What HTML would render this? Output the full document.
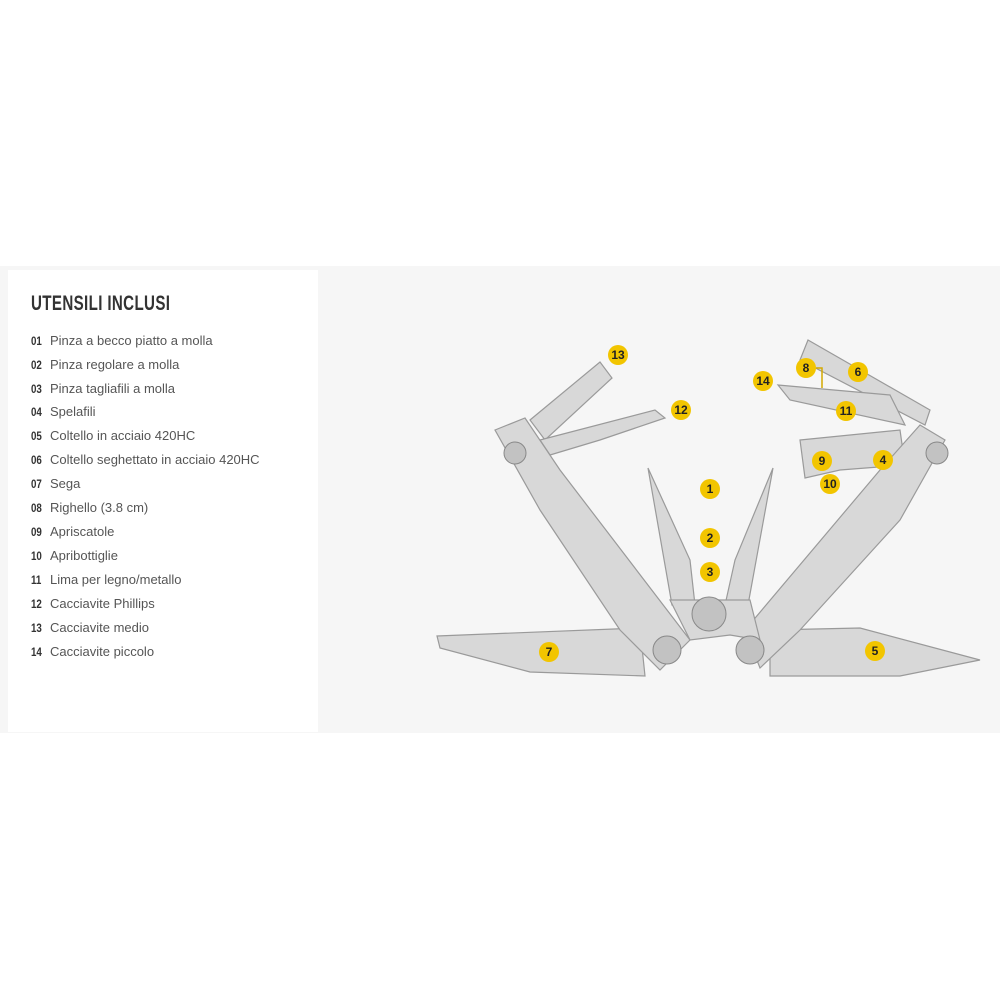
<!DOCTYPE html>
<html><head><meta charset="utf-8"><style>
body{margin:0;width:1000px;height:1000px;background:#fff;position:relative;overflow:hidden;font-family:"Liberation Sans",sans-serif}
#band{position:absolute;left:0;top:266px;width:1000px;height:467px;background:#f6f6f6}
#card{position:absolute;left:8px;top:270px;width:310px;height:462px;background:#fff}
h1{position:absolute;left:31px;top:292px;margin:0;font-size:21px;font-weight:bold;color:#333;letter-spacing:0.5px;transform:scaleX(0.72);transform-origin:left}
.it{position:absolute;left:31px;font-size:13px;color:#555;white-space:nowrap}
.it b{display:inline-block;width:19px;color:#333;font-size:11.5px;transform:scaleX(0.85);transform-origin:left}
svg{position:absolute;left:0;top:0}
</style></head><body>
<div id="band"></div><div id="card"></div>
<h1>UTENSILI INCLUSI</h1>
<div class="it" style="top:333px"><b>01</b>Pinza a becco piatto a molla</div>
<div class="it" style="top:357px"><b>02</b>Pinza regolare a molla</div>
<div class="it" style="top:381px"><b>03</b>Pinza tagliafili a molla</div>
<div class="it" style="top:404px"><b>04</b>Spelafili</div>
<div class="it" style="top:428px"><b>05</b>Coltello in acciaio 420HC</div>
<div class="it" style="top:452px"><b>06</b>Coltello seghettato in acciaio 420HC</div>
<div class="it" style="top:476px"><b>07</b>Sega</div>
<div class="it" style="top:500px"><b>08</b>Righello (3.8 cm)</div>
<div class="it" style="top:524px"><b>09</b>Apriscatole</div>
<div class="it" style="top:548px"><b>10</b>Apribottiglie</div>
<div class="it" style="top:572px"><b>11</b>Lima per legno/metallo</div>
<div class="it" style="top:596px"><b>12</b>Cacciavite Phillips</div>
<div class="it" style="top:620px"><b>13</b>Cacciavite medio</div>
<div class="it" style="top:644px"><b>14</b>Cacciavite piccolo</div>
<svg width="1000" height="1000" viewBox="0 0 1000 1000">
<g fill="#d8d8d8" stroke="#9a9a9a" stroke-width="1.2">
<polygon points="530,420 600,362 612,378 545,440"/>
<polygon points="540,440 655,410 665,418 600,440 550,455"/>
<polygon points="808,340 930,410 925,425 800,360"/>
<polygon points="778,385 890,395 905,425 790,400"/>
<polygon points="800,440 900,430 905,465 840,470 805,478"/>
<polygon points="437,636 640,628 645,676 530,672 440,648"/>
<polygon points="770,630 860,628 980,660 900,676 770,676"/>
<polygon points="648,468 690,560 695,605 672,605"/>
<polygon points="773,468 735,560 725,605 748,605"/>
<polygon points="495,430 525,418 560,470 690,640 660,670 620,630 540,510"/>
<polygon points="945,440 920,425 880,470 745,630 760,668 800,630 900,520"/>
<polygon points="670,600 750,600 760,640 730,635 690,640"/>
</g>
<g fill="#c2c2c2" stroke="#888">
<circle cx="709" cy="614" r="17"/><circle cx="515" cy="453" r="11"/><circle cx="937" cy="453" r="11"/>
<circle cx="667" cy="650" r="14"/><circle cx="750" cy="650" r="14"/>
</g>
<g fill="#f2c500"><circle cx="618" cy="355" r="10"/><circle cx="681" cy="410" r="10"/><circle cx="806" cy="368" r="10"/><circle cx="858" cy="372" r="10"/><circle cx="763" cy="381" r="10"/><circle cx="846" cy="411" r="10"/><circle cx="822" cy="461" r="10"/><circle cx="883" cy="460" r="10"/><circle cx="830" cy="484" r="10"/><circle cx="710" cy="489" r="10"/><circle cx="710" cy="538" r="10"/><circle cx="710" cy="572" r="10"/><circle cx="549" cy="652" r="10"/><circle cx="875" cy="651" r="10"/></g>
<g font-family="Liberation Sans" font-weight="bold" font-size="12" fill="#222" text-anchor="middle">
<text x="618" y="359">13</text><text x="681" y="414">12</text><text x="806" y="372">8</text><text x="858" y="376">6</text><text x="763" y="385">14</text><text x="846" y="415">11</text><text x="822" y="465">9</text><text x="883" y="464">4</text><text x="830" y="488">10</text><text x="710" y="493">1</text><text x="710" y="542">2</text><text x="710" y="576">3</text><text x="549" y="656">7</text><text x="875" y="655">5</text></g>
<polyline points="816,368 822,368 822,388" fill="none" stroke="#d4a800" stroke-width="1.5"/>
</svg>
</body></html>
